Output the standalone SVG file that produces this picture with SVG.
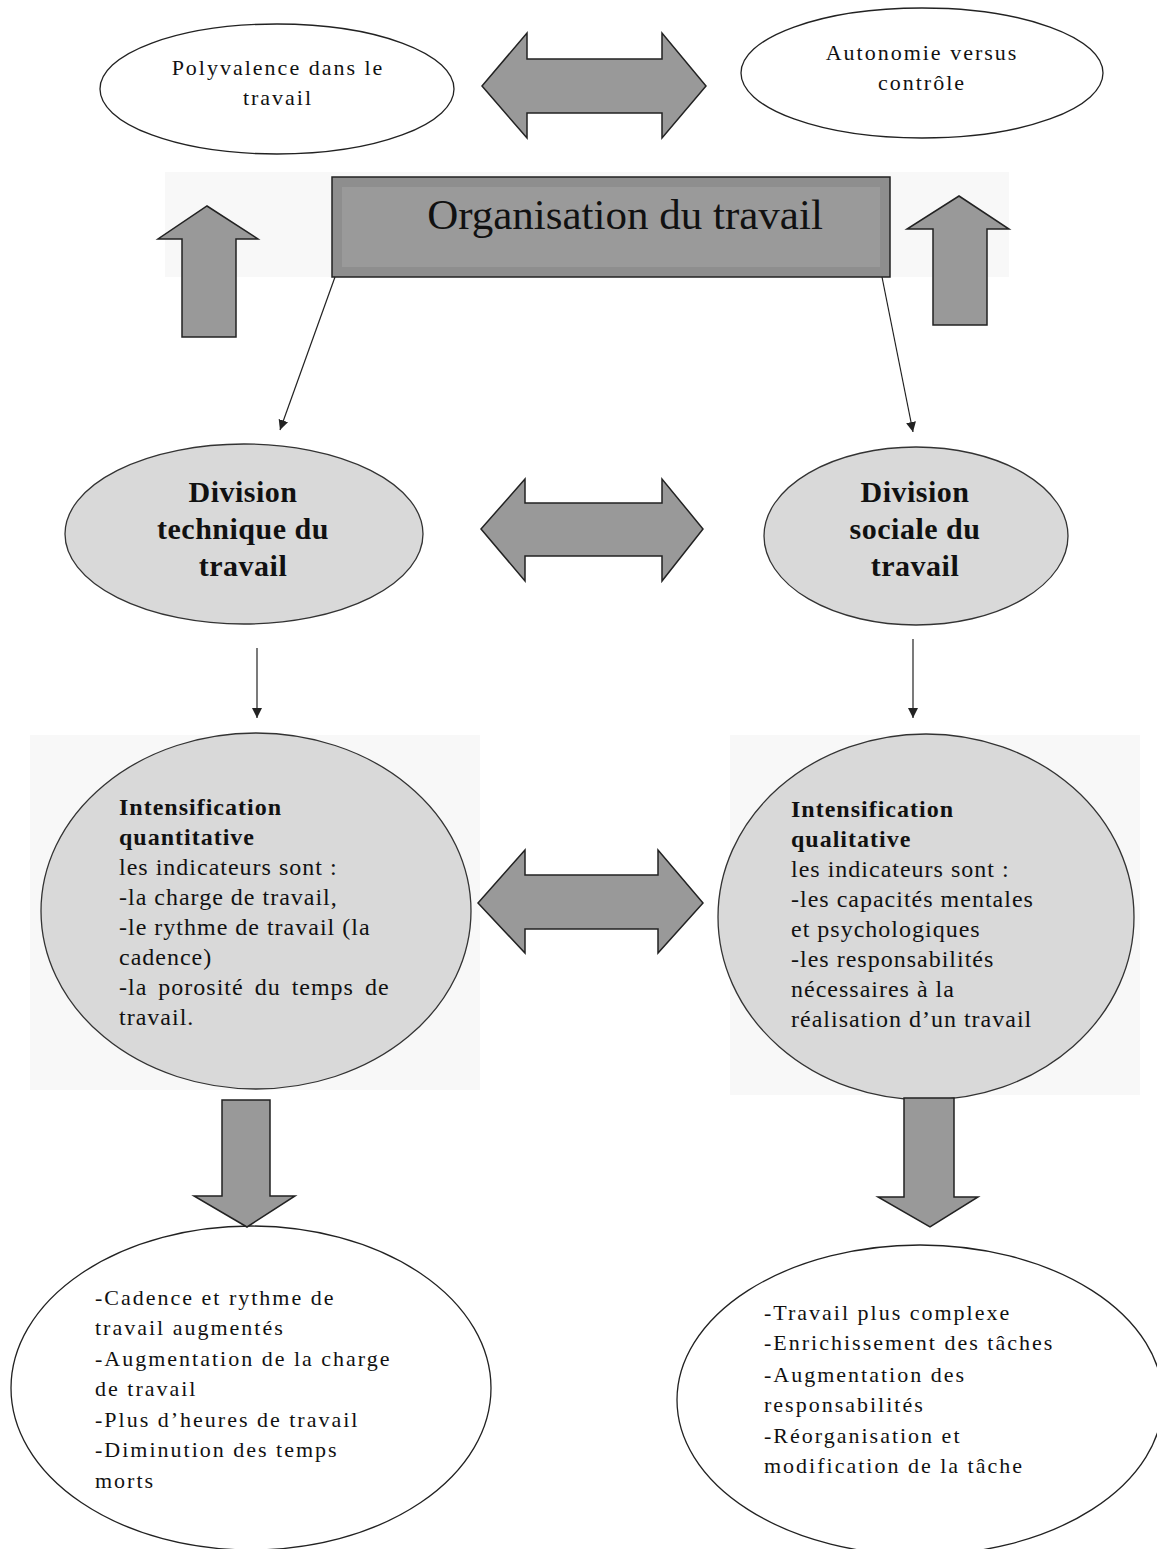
<svg xmlns="http://www.w3.org/2000/svg" width="1157" height="1549" viewBox="0 0 1157 1549">
<style>
.bg{fill:#f8f8f8}
.el{fill:#ffffff;stroke:#222;stroke-width:1.3}
.gr{fill:#d9d9d9;stroke:#333;stroke-width:1.3}
.big{fill:#999;stroke:#222;stroke-width:1.5;stroke-linejoin:miter}
.rect{fill:#8e8e8e;stroke:#222;stroke-width:1.5}
.t{font-family:"Liberation Serif","Times New Roman",serif;font-size:22px;fill:#111;letter-spacing:2px}
.tc{text-anchor:middle}
.b{font-family:"Liberation Serif","Times New Roman",serif;font-size:30px;font-weight:bold;fill:#111;text-anchor:middle;letter-spacing:0.5px}
.m{font-family:"Liberation Serif","Times New Roman",serif;font-size:24px;fill:#111;letter-spacing:1px}
.mb{font-weight:bold}
.title{font-family:"Liberation Serif","Times New Roman",serif;font-size:43px;fill:#111;text-anchor:middle}
.ln{stroke:#222;stroke-width:1.2;fill:none}
</style>
<defs>
<marker id="ah" viewBox="0 0 10 10" refX="10" refY="5" markerWidth="10" markerHeight="10" markerUnits="userSpaceOnUse" orient="auto">
<path d="M0,0 L10,5 L0,10 z" fill="#222"/>
</marker>
</defs>
<rect width="1157" height="1549" fill="#fff"/>
<rect class="bg" x="165" y="172" width="844" height="105"/>
<rect class="bg" x="30" y="735" width="450" height="355"/>
<rect class="bg" x="730" y="735" width="410" height="360"/>

<g id="polyvalence">
<ellipse class="el" cx="277" cy="89" rx="177" ry="65"/>
<text class="t tc" x="278" y="75">Polyvalence dans le</text>
<text class="t tc" x="278" y="105">travail</text>
</g>
<g id="autonomie">
<ellipse class="el" cx="922" cy="73" rx="181" ry="65"/>
<text class="t tc" x="922" y="60">Autonomie versus</text>
<text class="t tc" x="922" y="90">contrôle</text>
</g>
<g id="organisation">
<rect class="rect" x="332" y="177" width="558" height="100"/>
<rect x="342" y="187" width="538" height="80" fill="#9a9a9a"/>
<text class="title" x="625" y="229">Organisation du travail</text>
</g>
<g id="division-technique">
<ellipse class="gr" cx="244" cy="534" rx="179" ry="90"/>
<text class="b" x="243" y="502">Division</text>
<text class="b" x="243" y="539">technique du</text>
<text class="b" x="243" y="576">travail</text>
</g>
<g id="division-sociale">
<ellipse class="gr" cx="916" cy="536" rx="152" ry="89"/>
<text class="b" x="915" y="502">Division</text>
<text class="b" x="915" y="539">sociale du</text>
<text class="b" x="915" y="576">travail</text>
</g>
<g id="intensification-quantitative">
<ellipse class="gr" cx="256" cy="911" rx="215" ry="178"/>
<text class="m mb" x="119" y="815">Intensification</text>
<text class="m mb" x="119" y="845">quantitative</text>
<text class="m" x="119" y="875">les indicateurs sont :</text>
<text class="m" x="119" y="905">-la charge de travail,</text>
<text class="m" x="119" y="935">-le rythme de travail (la</text>
<text class="m" x="119" y="965">cadence)</text>
<text class="m" x="119" y="995" word-spacing="4">-la porosité du temps de</text>
<text class="m" x="119" y="1025">travail.</text>
</g>
<g id="intensification-qualitative">
<ellipse class="gr" cx="926" cy="917" rx="208" ry="183"/>
<text class="m mb" x="791" y="817">Intensification</text>
<text class="m mb" x="791" y="847">qualitative</text>
<text class="m" x="791" y="877">les indicateurs sont :</text>
<text class="m" x="791" y="907">-les capacités mentales</text>
<text class="m" x="791" y="937">et psychologiques</text>
<text class="m" x="791" y="967">-les responsabilités</text>
<text class="m" x="791" y="997">nécessaires à la</text>
<text class="m" x="791" y="1027">réalisation d’un travail</text>
</g>
<g id="effets-quantitatifs">
<ellipse class="el" cx="251" cy="1388" rx="240" ry="162"/>
<text class="t" x="95" y="1305">-Cadence et rythme de</text>
<text class="t" x="95" y="1335">travail augmentés</text>
<text class="t" x="95" y="1366">-Augmentation de la charge</text>
<text class="t" x="95" y="1396">de travail</text>
<text class="t" x="95" y="1427">-Plus d’heures de travail</text>
<text class="t" x="95" y="1457">-Diminution des temps</text>
<text class="t" x="95" y="1488">morts</text>
</g>
<g id="effets-qualitatifs">
<ellipse class="el" cx="920" cy="1400" rx="243" ry="155"/>
<text class="t" x="764" y="1320">-Travail plus complexe</text>
<text class="t" x="764" y="1350">-Enrichissement des tâches</text>
<text class="t" x="764" y="1382">-Augmentation des</text>
<text class="t" x="764" y="1412">responsabilités</text>
<text class="t" x="764" y="1443">-Réorganisation et</text>
<text class="t" x="764" y="1473">modification de la tâche</text>
</g>

<g id="connectors">
<path class="big" d="M482,86 L527,33 L527,59 L662,59 L662,33 L706,86 L662,138 L662,113 L527,113 L527,138 Z"/>
<path class="big" d="M481,529 L525,479 L525,503 L662,503 L662,479 L703,529 L662,581 L662,556 L525,556 L525,581 Z"/>
<path class="big" d="M478,903 L525,850 L525,875 L658,875 L658,850 L703,903 L658,953 L658,929 L525,929 L525,953 Z"/>
<path class="big" d="M207,206 L258,239 L236,239 L236,337 L182,337 L182,239 L158,239 Z"/>
<path class="big" d="M959,196 L1009,229 L987,229 L987,325 L933,325 L933,229 L907,229 Z"/>
<path class="big" d="M222,1100 L270,1100 L270,1196 L295,1196 L247,1227 L194,1196 L222,1196 Z"/>
<path class="big" d="M904,1098 L954,1098 L954,1197 L978,1197 L930,1227 L878,1197 L904,1197 Z"/>
<line class="ln" x1="335" y1="277" x2="280" y2="430" marker-end="url(#ah)"/>
<line class="ln" x1="882" y1="277" x2="913" y2="432" marker-end="url(#ah)"/>
<line class="ln" x1="257" y1="648" x2="257" y2="718" marker-end="url(#ah)"/>
<line class="ln" x1="913" y1="639" x2="913" y2="718" marker-end="url(#ah)"/>
</g>
</svg>
